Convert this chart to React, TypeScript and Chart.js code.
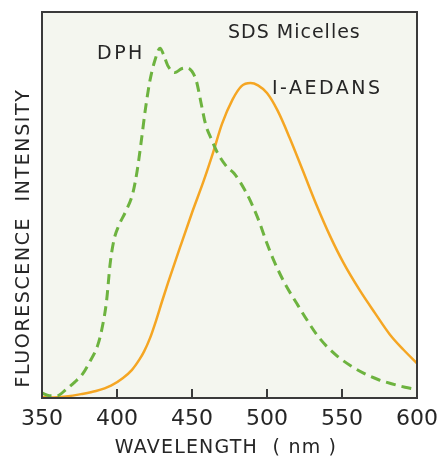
import React, { useEffect, useRef } from "react";
import { Chart, registerables } from "chart.js";

Chart.register(...registerables);

const dphWavelengths = [350, 355, 360, 366, 372, 377, 382, 387, 390, 393, 395.5, 398, 401, 406, 410.5, 413.5, 416, 419, 422, 425.3, 428.7, 431, 434, 438.5, 443, 447, 450, 453, 456, 459, 463, 467, 473, 478, 482, 485, 489, 495, 500, 505, 512, 520, 527, 533, 540, 547, 556, 565, 574, 583, 592, 600];
const dphValues = [1.3, 0.6, 0.6, 2.2, 4.2, 6.2, 9.5, 13.5, 18, 25, 35, 41, 44.5, 48.5, 53, 59, 66, 75, 82.3, 87.5, 90.6, 89, 86, 84.3, 85.3, 85.5, 84.6, 82, 76.5, 71, 67, 63.5, 60, 58.2, 56, 54, 51, 45.5, 40, 35.2, 29.6, 24.4, 20, 16.5, 13.3, 10.8, 8.3, 6.3, 4.8, 3.7, 2.8, 2.2];

const aedansWavelengths = [350, 356, 366, 376, 386, 396, 404, 410, 415, 418, 422, 426, 430, 434, 442, 450, 458, 464, 470, 477, 483, 489, 494, 500, 507, 515, 524, 533, 542, 551, 562, 572, 582, 591, 600];
const aedansValues = [0.3, 0.1, 0.4, 1.0, 1.8, 3.2, 5.2, 7.3, 10, 12, 15.5, 20, 25, 29.8, 39, 48, 56.5, 63.5, 71, 77.3, 80.8, 81.6, 81, 79, 74.5, 67.5, 58.8, 50, 42, 35, 27.8, 22, 16.4, 12.5, 9];

const xTicks = [350, 400, 450, 500, 550, 600];

const seriesNames = ["DPH", "I-AEDANS"];
const annotationTitle = "SDS Micelles";
const xTitle = "WAVELENGTH  ( nm )";
const yTitle = "FLUORESCENCE  INTENSITY";

const FONT = "'DejaVu Sans', sans-serif";
const TEXT = "#262626";

function drawText(ctx: any, text: string, x: number, y: number, size: number, spacing: number, align: string) {
  ctx.font = `${size}px ${FONT}`;
  ctx.letterSpacing = `${spacing}px`;
  ctx.textAlign = align;
  ctx.textBaseline = "alphabetic";
  ctx.fillText(text, x, y);
}

const framePlugin = {
  id: "frame",
  beforeDraw(chart: any) {
    const { ctx, chartArea } = chart;
    ctx.save();
    ctx.fillStyle = "#ffffff";
    ctx.fillRect(0, 0, chart.width, chart.height);
    ctx.fillStyle = "#f4f6ef";
    ctx.fillRect(chartArea.left, chartArea.top, chartArea.right - chartArea.left, chartArea.bottom - chartArea.top);
    ctx.restore();
  },
  afterDraw(chart: any) {
    const { ctx, chartArea } = chart;
    const xs = chart.scales.x;
    ctx.save();
    ctx.strokeStyle = "#3a3a3a";
    ctx.lineWidth = 2;
    ctx.strokeRect(chartArea.left, chartArea.top, chartArea.right - chartArea.left, chartArea.bottom - chartArea.top);
    xTicks.forEach((t) => {
      const px = xs.getPixelForValue(t);
      ctx.beginPath();
      ctx.moveTo(px, chartArea.bottom);
      ctx.lineTo(px, chartArea.bottom - 9);
      ctx.stroke();
    });
    ctx.fillStyle = TEXT;
    drawText(ctx, xTitle, 226, 453, 19, 1.2, "center");
    ctx.save();
    ctx.translate(29, 238);
    ctx.rotate(-Math.PI / 2);
    drawText(ctx, yTitle, 0, 0, 19, 1.6, "center");
    ctx.restore();
    drawText(ctx, annotationTitle, 228, 38, 19, 1, "left");
    drawText(ctx, seriesNames[0], 97, 59, 19, 2.5, "left");
    drawText(ctx, seriesNames[1], 272, 94, 19, 2.5, "left");
    ctx.restore();
  },
};

export default function App() {
  const ref = useRef<HTMLCanvasElement>(null);
  useEffect(() => {
    if (!ref.current) return;
    const chart = new Chart(ref.current, {
      type: "line",
      data: {
        datasets: [
          {
            label: seriesNames[0],
            data: dphWavelengths.map((x, i) => ({ x, y: dphValues[i] })),
            borderColor: "#6db33f",
            borderWidth: 3,
            borderDash: [10, 6],
            pointRadius: 0,
            cubicInterpolationMode: "monotone",
            fill: false,
          },
          {
            label: seriesNames[1],
            data: aedansWavelengths.map((x, i) => ({ x, y: aedansValues[i] })),
            borderColor: "#f5a623",
            borderWidth: 2.5,
            pointRadius: 0,
            cubicInterpolationMode: "monotone",
            fill: false,
          },
        ],
      },
      options: {
        animation: false,
        responsive: false,
        events: [],
        layout: { padding: { left: 42, right: 21, top: 12, bottom: 0 } },
        plugins: { legend: { display: false }, tooltip: { enabled: false } },
        scales: {
          x: {
            type: "linear",
            min: 350,
            max: 600,
            afterFit: (s: any) => { s.height = 58; s.paddingLeft = 0; s.paddingRight = 0; },
            afterBuildTicks: (s: any) => { s.ticks = xTicks.map((v) => ({ value: v })); },
            grid: { display: false, drawTicks: false },
            border: { display: false },
            ticks: { color: TEXT, font: { family: FONT, size: 22 }, padding: 8, maxRotation: 0 },
          },
          y: {
            type: "linear",
            min: 0,
            max: 100,
            display: false,
          },
        },
      },
      plugins: [framePlugin],
    } as any);
    return () => chart.destroy();
  }, []);
  return (
    <div style={{ position: "fixed", left: 0, top: 0, width: 438, height: 456, background: "#fff" }}>
      <canvas ref={ref} width={438} height={456} style={{ display: "block" }} />
    </div>
  );
}
